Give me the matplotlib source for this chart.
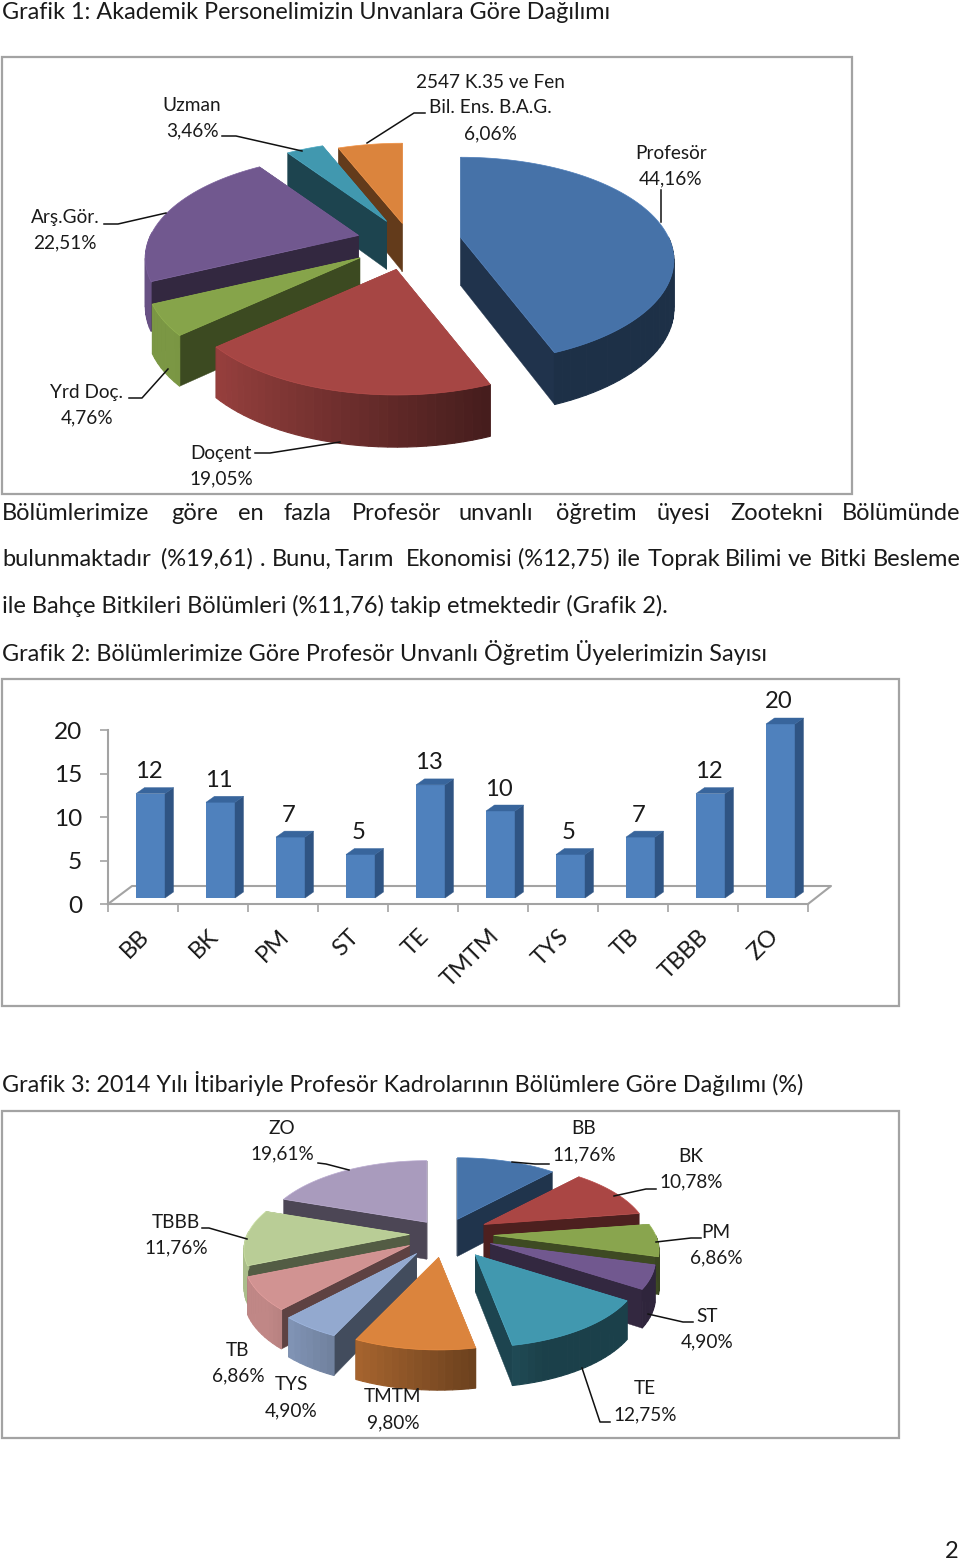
import numpy as np
import matplotlib
matplotlib.use("Agg")
import matplotlib.pyplot as plt
from matplotlib.patches import Polygon, Rectangle
from matplotlib.colors import to_rgb
from matplotlib.transforms import ScaledTranslation

W, H = 960, 1559
plt.rcParams["font.family"] = ["Lato", "DejaVu Sans"]

# Grafik 1
UNVAN_NAMES = ["Profesör", "Doçent", "Yrd Doç.", "Arş.Gör.", "Uzman", "2547 K.35 ve Fen\nBil. Ens. B.A.G."]
UNVAN_PCT = [44.16, 19.05, 4.76, 22.51, 3.46, 6.06]
# Grafik 2
BOLUM_NAMES = ["BB", "BK", "PM", "ST", "TE", "TMTM", "TYS", "TB", "TBBB", "ZO"]
PROF_COUNT = [12, 11, 7, 5, 13, 10, 5, 7, 12, 20]
# Grafik 3
BOLUM_PCT = [11.76, 10.78, 6.86, 4.90, 12.75, 9.80, 4.90, 6.86, 11.76, 19.61]

# styles / layout
UNVAN_COLORS = ["#4672A8", "#A64644", "#86A44A", "#71588F", "#4198AF", "#DB843D"]
UNVAN_EXPLODE = [0.25, 0.27, 0.28, 0.26, 0.25, 0.2]
BOLUM_COLORS = ["#4673A9", "#AA4644", "#89A54E", "#71588F", "#4198AF", "#DB843D",
                "#93A9CF", "#D19392", "#B9CD96", "#A99BBD"]
BOLUM_EXPLODE = [0.22, 0.28, 0.3, 0.3, 0.32, 0.3, 0.3, 0.26, 0.22, 0.2]
UNVAN_LABEL_POS = [(671, 153), (221, 453), (87, 392), (65, 217), (192, 105), (490, 82)]
BOLUM_LABEL_POS = [(584, 1129), (691, 1156), (716, 1232), (707, 1316), (645, 1389),
                   (393, 1397), (291, 1385), (238, 1350), (176, 1222), (282, 1128)]
UNVAN_LEADERS = [
    [(661, 190), (661, 222)],
    [(255, 453), (270, 453), (340, 442)],
    [(129, 398), (142, 398), (168, 369)],
    [(104, 224), (118, 224), (166, 213)],
    [(222, 136), (236, 136), (302, 151)],
    [(425, 113), (414, 113), (367, 143)],
]
BOLUM_LEADERS = [
    [(549, 1164), (535, 1164), (512, 1162)],
    [(656, 1189), (646, 1189), (614, 1196)],
    [(701, 1238), (691, 1238), (656, 1242)],
    [(693, 1322), (683, 1322), (648, 1314)],
    [(610, 1422), (600, 1422), (582, 1368)],
    [(318, 1163), (326, 1164), (349, 1170)],
    [(202, 1228), (209, 1228), (247, 1239)],
]
BODY_LINE1 = ["Bölümlerimize", "göre", "en", "fazla", "Profesör", "unvanlı", "öğretim", "üyesi", "Zootekni", "Bölümünde"]
BODY_LINE1_X = [2, 171, 238, 284, 352, 459, 556, 657, 730, 842]
BODY_LINE2 = ["bulunmaktadır", "(%19,61)", ".", "Bunu,", "Tarım", "Ekonomisi", "(%12,75)", "ile", "Toprak",
              "Bilimi", "ve", "Bitki", "Besleme"]
BODY_LINE2_X = [2, 161, 260, 272, 335, 406, 518, 617, 648, 725, 788, 820, 873]

FS_BODY = 17.0
FS_CAPTION = 16.8
FS_LABEL = 13.7
LABEL_STEP = 25.8
GRAY = "#A3A3A3"
INK = "#1a1a1a"


def project(u, v, c, rx, ry, p):
    """Disk koordinatini ekrana izdusur (arka taraf kucuk gorunur)."""
    d = 1 + p * v
    return c[0] + rx * u / d, c[1] - ry * v / d


def shade(col, f):
    return tuple(min(1, x * f) for x in to_rgb(col))


def rim_factor(u):
    return float(np.clip(0.58 - 0.45 * u, 0.42, 0.92))


def draw_pie3d(ax, values, colors, explode, c, rx, ry, depth, p):
    total = sum(values)
    edges = np.cumsum([0] + list(values)) / total * 2 * np.pi
    order = np.argsort([-np.cos((edges[i] + edges[i + 1]) / 2) for i in range(len(values))])
    for rank, i in enumerate(order):
        z = 2 + 0.01 * rank
        a0, a1 = edges[i], edges[i + 1]
        mid = (a0 + a1) / 2
        apex = project(explode[i] * np.sin(mid), explode[i] * np.cos(mid), c, rx, ry, p)
        th = np.linspace(a0, a1, max(6, int(np.degrees(a1 - a0) / 2)))
        top = []
        low = []
        for t in th:
            px, py = project(np.sin(t), np.cos(t), (0, 0), rx, ry, p)
            top.append((apex[0] + px, apex[1] + py))
            d = depth / (1 + 0.08 * np.cos(t))
            low.append((apex[0] + px, apex[1] + py + d))
        apex_low = (apex[0], apex[1] + depth)
        dark = shade(colors[i], 0.45)
        # radial yuzler
        faces = [[apex, top[0], low[0], apex_low], [apex, top[-1], low[-1], apex_low]]
        faces.sort(key=lambda f: f[1][1])
        for f in faces:
            ax.add_patch(Polygon(f, closed=True, fc=dark, ec=dark, lw=0.3, zorder=z))
        # dis kenar, sadece one bakan kisim, aci boyunca golgeli
        for k in range(len(th) - 1):
            if np.cos(th[k]) > 0.02:
                continue
            quad = [top[k], top[k + 1], low[k + 1], low[k]]
            col = shade(colors[i], rim_factor(np.sin(th[k])))
            ax.add_patch(Polygon(quad, closed=True, fc=col, ec=col, lw=0.8, zorder=z))
        ax.add_patch(Polygon([apex] + top, closed=True, fc=colors[i], ec=shade(colors[i], 1.1),
                             lw=0.5, zorder=z))


def draw_labels(ax, names, values, positions, leaders):
    for name, v, (x, y) in zip(names, values, positions):
        lines = name.split("\n") + [f"{v:.2f}".replace(".", ",") + "%"]
        for k, line in enumerate(lines):
            ax.text(x, y + k * LABEL_STEP, line, ha="center", va="center", fontsize=FS_LABEL,
                    color=INK, zorder=6)
    for pts in leaders:
        xs, ys = zip(*pts)
        ax.plot(xs, ys, color="#111111", lw=1.1, zorder=5)


fig = plt.figure(figsize=(W / 100, H / 100), dpi=100, facecolor="white")
ax = fig.add_axes([0, 0, 1, 1])
ax.set_xlim(0, W)
ax.set_ylim(H, 0)
ax.axis("off")

# govde metni
ax.text(2, 12, "Grafik 1: Akademik Personelimizin Unvanlara Göre Dağılımı", fontsize=FS_CAPTION, va="center", color=INK)
for word, x in zip(BODY_LINE1, BODY_LINE1_X):
    ax.text(x, 513, word, fontsize=FS_BODY, va="center", color=INK)
for word, x in zip(BODY_LINE2, BODY_LINE2_X):
    ax.text(x, 559, word, fontsize=FS_BODY, va="center", color=INK)
ax.text(2, 606, "ile Bahçe Bitkileri Bölümleri (%11,76) takip etmektedir (Grafik 2).", fontsize=FS_BODY, va="center", color=INK)
ax.text(2, 652, "Grafik 2: Bölümlerimize Göre Profesör Unvanlı Öğretim Üyelerimizin Sayısı", fontsize=FS_CAPTION, va="center", color=INK)
ax.text(2, 1084, "Grafik 3: 2014 Yılı İtibariyle Profesör Kadrolarının Bölümlere Göre Dağılımı (%)", fontsize=FS_CAPTION, va="center", color=INK)
ax.text(952, 1551, "2", fontsize=FS_BODY, ha="center", va="center", color=INK)

# cerceveler
for x0, y0, x1, y1 in [(2, 57, 852, 494), (2, 679, 899, 1006), (2, 1111, 899, 1438)]:
    ax.add_patch(Rectangle((x0, y0), x1 - x0, y1 - y0, fc="none", ec=GRAY, lw=1.6, zorder=1))

# Grafik 1
draw_pie3d(ax, UNVAN_PCT, UNVAN_COLORS, UNVAN_EXPLODE, (410, 242), 208, 98, 48, 0.22)
draw_labels(ax, UNVAN_NAMES, UNVAN_PCT, UNVAN_LABEL_POS, UNVAN_LEADERS)

# Grafik 3
draw_pie3d(ax, BOLUM_PCT, BOLUM_COLORS, BOLUM_EXPLODE, (445, 1234), 162, 74, 37, 0.2)
draw_labels(ax, BOLUM_NAMES, BOLUM_PCT, BOLUM_LABEL_POS, BOLUM_LEADERS)

# Grafik 2: eksenler
X0, X1, Y0, Y20 = 108, 808, 904, 730
pos = [X0 / W, 1 - Y0 / H, (X1 - X0) / W, (Y0 - Y20) / H]
ax2 = fig.add_axes(pos, facecolor="none")
n = len(PROF_COUNT)
ax2.set_xlim(0, n)
ax2.set_ylim(0, 20)
for s in ["top", "right"]:
    ax2.spines[s].set_visible(False)
for s in ["left", "bottom"]:
    ax2.spines[s].set_color(GRAY)
    ax2.spines[s].set_linewidth(1.5)
ax2.set_yticks([0, 5, 10, 15, 20])
ax2.tick_params(axis="y", length=6, width=1.2, color=GRAY, labelsize=FS_BODY + 0.6, pad=12.5, labelcolor=INK)
ax2.set_xticks(np.arange(n) + 0.5)
ax2.set_xticklabels(BOLUM_NAMES, rotation=45, ha="right", va="top", rotation_mode="anchor")
ax2.tick_params(axis="x", which="major", length=0, labelsize=FS_BODY, pad=15.5, labelcolor=INK)
shift = ScaledTranslation(-5 / 100, 0, fig.dpi_scale_trans)
for lab in ax2.get_xticklabels():
    lab.set_transform(lab.get_transform() + shift)
ax2.set_xticks(np.arange(n + 1), minor=True)
ax2.tick_params(axis="x", which="minor", length=6, width=1.2, color=GRAY)
ux, uy = (X1 - X0) / n, (Y0 - Y20) / 20
ax2.plot([0, 24 / ux, n + 23 / ux, n], [0, 18 / uy, 18 / uy, 0], color=GRAY, lw=1.5, clip_on=False, zorder=1)

# Grafik 2: cubuklar, eksene gore biraz kaydirilmis
dx, dy = 7.5, 6
ax3 = fig.add_axes([(X0 + dx) / W, 1 - (Y0 - dy) / H, (X1 - X0) / W, (Y0 - Y20) / H], facecolor="none")
ax3.set_xlim(0, n)
ax3.set_ylim(0, 20)
ax3.axis("off")
xs = np.arange(n) + 0.5
bw = 29 / ux
ddx, ddy = 8.5 / ux, 6 / uy
ax3.bar(xs, PROF_COUNT, width=bw, color="#4F81BD", zorder=3)
for xc, v in zip(xs, PROF_COUNT):
    l, r = xc - bw / 2, xc + bw / 2
    ax3.add_patch(Polygon([(r, 0), (r + ddx, ddy), (r + ddx, v + ddy), (r, v)], closed=True,
                          fc="#2F5483", ec="#2F5483", lw=0.3, clip_on=False, zorder=3))
    ax3.add_patch(Polygon([(l, v), (l + ddx, v + ddy), (r + ddx, v + ddy), (r, v)], closed=True,
                          fc="#38659C", ec="#38659C", lw=0.3, clip_on=False, zorder=3))
    ax3.text(xc - 1.5 / ux, v + 22 / uy, str(v), ha="center", va="center", fontsize=FS_BODY + 0.2,
             color=INK, clip_on=False)

fig.savefig("out.png", dpi=100, facecolor="white")
